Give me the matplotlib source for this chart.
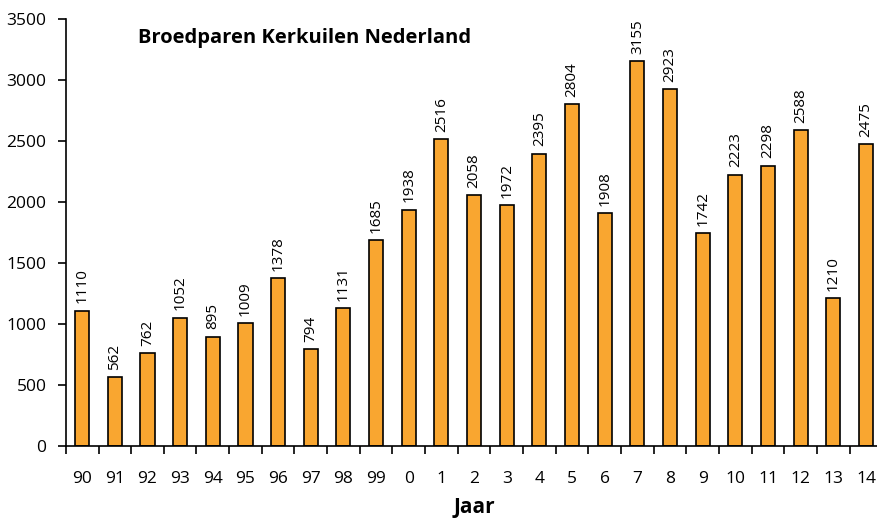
import matplotlib
matplotlib.use('Agg')
import matplotlib.pyplot as plt
import numpy as np

jaren = ['90', '91', '92', '93', '94', '95', '96', '97', '98', '99', '0', '1', '2',
         '3', '4', '5', '6', '7', '8', '9', '10', '11', '12', '13', '14']
paren = [1110, 562, 762, 1052, 895, 1009, 1378, 794, 1131, 1685, 1938, 2516, 2058,
         1972, 2395, 2804, 1908, 3155, 2923, 1742, 2223, 2298, 2588, 1210, 2475]

plt.rcParams['font.family'] = ['Open Sans', 'DejaVu Sans']

fig = plt.figure(figsize=(8.78, 5.2), dpi=100)
ax = fig.add_axes([0.075, 0.1423, 0.93, 0.8212])

x = np.arange(len(jaren))
ax.bar(x, paren, width=0.43, color='#F9A630', edgecolor='black', linewidth=1.2)

# waarden verticaal boven de staven
for xi, v in zip(x, paren):
    ax.text(xi, v + 60, str(v), rotation=90, ha='center', va='bottom', fontsize=11)

ax.set_xlim(-0.5, len(jaren) - 0.5)
ax.set_ylim(0, 3500)
ax.set_yticks(range(0, 3501, 500))
ax.set_xticks(x)
ax.set_xticklabels(jaren, fontsize=12.5)
ax.set_xticks(np.arange(-0.5, len(jaren), 1), minor=True)
ax.tick_params(axis='x', which='major', length=0, pad=18)
ax.tick_params(axis='x', which='minor', length=6, width=1.2, direction='out')
ax.tick_params(axis='y', length=6, width=1.2, direction='out', labelsize=12.5, pad=8)

for s in ['top', 'right']:
    ax.spines[s].set_visible(False)
for s in ['left', 'bottom']:
    ax.spines[s].set_linewidth(1.2)

ax.text(0.088, 0.98, 'Broedparen Kerkuilen Nederland', transform=ax.transAxes,
        fontsize=14.5, fontweight='bold', va='top')
ax.set_xlabel('Jaar', fontsize=15, fontweight='bold', labelpad=7)

fig.savefig('out.png', dpi=100)
